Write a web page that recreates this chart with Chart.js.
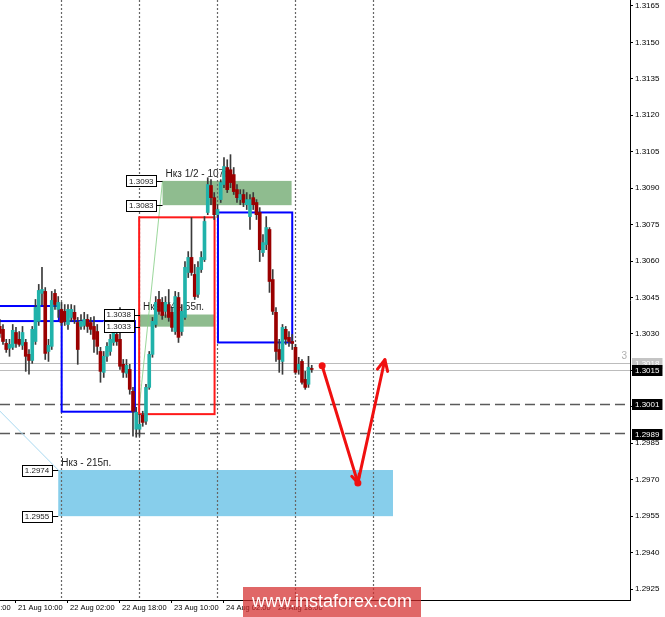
<!DOCTYPE html>
<html lang="ru">
<head>
<meta charset="UTF-8">
<title>GBPUSD H1</title>
<script src="https://cdn.jsdelivr.net/npm/chart.js"></script>
<style>
  html, body { margin: 0; padding: 0; background: #fff; }
  #wrap { width: 665px; height: 617px; }
</style>
</head>
<body>
<div id="wrap"><canvas id="chart" width="665" height="617"></canvas></div>
<script>
// hour index counted from 21 Aug 00:00 (weekend skipped)
const hours = [
  5, 6, 7, 8, 9, 10, 11, 12, 13, 14,
  15, 16, 17, 18, 19, 20, 21, 22, 23, 24,
  25, 26, 27, 28, 29, 30, 31, 32, 33, 34,
  35, 36, 37, 38, 39, 40, 41, 42, 43, 44,
  45, 46, 47, 48, 49, 50, 51, 52, 53, 54,
  55, 56, 57, 58, 59, 60, 61, 62, 63, 64,
  65, 66, 67, 68, 69, 70, 71, 72, 73, 74,
  75, 76, 77, 78, 79, 80, 81, 82, 83, 84,
  85, 86, 87, 88, 89, 90, 91, 92, 93, 94,
  95, 96, 97, 98, 99, 100, 101
];
const opens = [
  1.30331, 1.30319, 1.30261, 1.30241, 1.30245, 1.30306, 1.30278, 1.30253, 1.30265, 1.30216,
  1.30191, 1.30269, 1.30352, 1.30467, 1.30475, 1.30228, 1.30249, 1.30467, 1.30401, 1.30401,
  1.30393, 1.30339, 1.30368, 1.30389, 1.30347, 1.30331, 1.30335, 1.30360, 1.30347, 1.30331,
  1.30310, 1.30228, 1.30142, 1.30208, 1.30228, 1.30265, 1.30298, 1.30278, 1.30175, 1.30138,
  1.30154, 1.30064, 1.29908, 1.29908, 1.29965, 1.29941, 1.30080, 1.30216, 1.30339, 1.30442,
  1.30430, 1.30393, 1.30421, 1.30389, 1.30310, 1.30450, 1.30310, 1.30368, 1.30553, 1.30615,
  1.30545, 1.30463, 1.30565, 1.30606, 1.30800, 1.30911, 1.30861, 1.30791, 1.30853, 1.30915,
  1.30985, 1.30976, 1.30956, 1.30894, 1.30853, 1.30874, 1.30832, 1.30783, 1.30861, 1.30841,
  1.30800, 1.30635, 1.30668, 1.30730, 1.30524, 1.30389, 1.30236, 1.30187, 1.30319, 1.30286,
  1.30269, 1.30245, 1.30154, 1.30187, 1.30113, 1.30093, 1.30158
];
const highs = [
  1.30360, 1.30339, 1.30278, 1.30278, 1.30339, 1.30327, 1.30310, 1.30331, 1.30278, 1.30236,
  1.30331, 1.30442, 1.30504, 1.30574, 1.30491, 1.30278, 1.30475, 1.30483, 1.30454, 1.30430,
  1.30421, 1.30421, 1.30421, 1.30417, 1.30368, 1.30380, 1.30389, 1.30380, 1.30368, 1.30372,
  1.30339, 1.30245, 1.30228, 1.30265, 1.30298, 1.30352, 1.30380, 1.30409, 1.30195, 1.30195,
  1.30175, 1.30080, 1.29998, 1.29969, 1.29982, 1.30093, 1.30228, 1.30368, 1.30454, 1.30475,
  1.30450, 1.30454, 1.30483, 1.30409, 1.30475, 1.30471, 1.30421, 1.30598, 1.30639, 1.30779,
  1.30586, 1.30598, 1.30639, 1.30783, 1.30943, 1.30935, 1.30882, 1.30832, 1.30935, 1.31026,
  1.31017, 1.31038, 1.30985, 1.30915, 1.30894, 1.30894, 1.30882, 1.30874, 1.30882, 1.30853,
  1.30820, 1.30709, 1.30783, 1.30738, 1.30565, 1.30409, 1.30278, 1.30339, 1.30331, 1.30310,
  1.30298, 1.30257, 1.30204, 1.30195, 1.30146, 1.30208, 1.30171
];
const lows = [
  1.30286, 1.30257, 1.30224, 1.30208, 1.30236, 1.30245, 1.30249, 1.30236, 1.30146, 1.30134,
  1.30179, 1.30257, 1.30335, 1.30421, 1.30195, 1.30187, 1.30236, 1.30401, 1.30368, 1.30335,
  1.30335, 1.30319, 1.30352, 1.30343, 1.30175, 1.30319, 1.30319, 1.30306, 1.30298, 1.30224,
  1.30216, 1.30101, 1.30121, 1.30187, 1.30212, 1.30253, 1.30253, 1.30154, 1.30121, 1.30121,
  1.30052, 1.29879, 1.29875, 1.29879, 1.29920, 1.29928, 1.30072, 1.30204, 1.30327, 1.30380,
  1.30360, 1.30368, 1.30352, 1.30310, 1.30298, 1.30265, 1.30294, 1.30360, 1.30532, 1.30541,
  1.30442, 1.30450, 1.30553, 1.30598, 1.30791, 1.30832, 1.30771, 1.30779, 1.30841, 1.30902,
  1.30882, 1.30902, 1.30874, 1.30841, 1.30832, 1.30824, 1.30812, 1.30730, 1.30812, 1.30771,
  1.30598, 1.30619, 1.30647, 1.30471, 1.30380, 1.30187, 1.30142, 1.30134, 1.30257, 1.30249,
  1.30236, 1.30134, 1.30134, 1.30093, 1.30072, 1.30080, 1.30142
];
const closes = [
  1.30302, 1.30269, 1.30236, 1.30257, 1.30315, 1.30261, 1.30257, 1.30306, 1.30208, 1.30191,
  1.30319, 1.30409, 1.30479, 1.30483, 1.30220, 1.30253, 1.30438, 1.30421, 1.30430, 1.30347,
  1.30352, 1.30401, 1.30401, 1.30360, 1.30236, 1.30352, 1.30360, 1.30331, 1.30319, 1.30278,
  1.30249, 1.30146, 1.30208, 1.30249, 1.30278, 1.30310, 1.30269, 1.30167, 1.30142, 1.30171,
  1.30072, 1.29982, 1.29978, 1.29928, 1.29936, 1.30080, 1.30216, 1.30352, 1.30430, 1.30393,
  1.30376, 1.30430, 1.30368, 1.30327, 1.30454, 1.30286, 1.30393, 1.30574, 1.30615, 1.30553,
  1.30454, 1.30574, 1.30615, 1.30763, 1.30915, 1.30861, 1.30791, 1.30812, 1.30923, 1.30989,
  1.30894, 1.30923, 1.30886, 1.30861, 1.30874, 1.30841, 1.30853, 1.30853, 1.30832, 1.30791,
  1.30647, 1.30676, 1.30738, 1.30516, 1.30393, 1.30228, 1.30195, 1.30327, 1.30278, 1.30269,
  1.30261, 1.30142, 1.30175, 1.30101, 1.30080, 1.30163, 1.30154
];

const timeTicks = [-6, 10, 26, 42, 58, 74, 90];
const timeLabels = ['20 Aug 18:00', '21 Aug 10:00', '22 Aug 02:00', '22 Aug 18:00',
                    '23 Aug 10:00', '24 Aug 02:00', '24 Aug 18:00'];
const priceTicks = [1.2925, 1.2940, 1.2955, 1.2970, 1.2985, 1.3000, 1.3015, 1.3030, 1.3045,
                    1.3060, 1.3075, 1.3090, 1.3105, 1.3120, 1.3135, 1.3150, 1.3165];
const daySeparators = [24, 48, 72, 96, 120];

// zones: name, time span, price span
const zoneNames = ['Нкз 1/2 - 107п.', 'Нкз 1/4 - 55п.', 'Нкз - 215п.'];
const zoneStart = [55.1, 48.15, 23.0];
const zoneEnd = [94.8, 71.2, 126.0];
const zoneTop = [1.3093, 1.3038, 1.2974];
const zoneBottom = [1.3083, 1.3033, 1.2955];

// outlined boxes
const boxStart = [0, 24.05, 47.9, 72.15];
const boxEnd = [23.2, 46.6, 71.1, 95.0];
const boxHigh = [1.30415, 1.30353, 1.30780, 1.30800];
const boxLow = [1.30353, 1.29980, 1.29970, 1.30265];

// levels
const askPrice = 1.3018;
const bidPrice = 1.3015;
const dashedLevels = [1.3001, 1.2989];

// thin trend lines
const greenLineHours = [47.7, 55.1];
const greenLinePrices = [1.29968, 1.3093];
const blueLineHours = [3.0, 23.0];
const blueLinePrices = [1.30010, 1.2974];

// forecast arrow
const forecastHours = [104.2, 115.2, 123.5];
const forecastPrices = [1.30169, 1.29687, 1.30194];

const FONT = 'Liberation Sans';

function priceBox(ctx, text, xRight, yMid) {
    ctx.font = '8px ' + FONT;
    const w = ctx.measureText(text).width + 6;
    const h = 11;
    ctx.fillStyle = '#fff';
    ctx.fillRect(xRight - w, yMid - h / 2, w, h);
    ctx.strokeStyle = '#000';
    ctx.lineWidth = 1;
    ctx.strokeRect(Math.round(xRight - w) + 0.5, Math.round(yMid - h / 2) + 0.5, Math.round(w), h);
    ctx.fillStyle = '#222';
    ctx.textAlign = 'left';
    ctx.textBaseline = 'middle';
    ctx.fillText(text, xRight - w + 3, yMid + 0.5);
}

function axisLabel(ctx, text, x, yMid, bg, fg) {
    ctx.font = '8px ' + FONT;
    const w = ctx.measureText(text).width + 6;
    ctx.fillStyle = bg;
    ctx.fillRect(x, Math.round(yMid) - 5, w, 11);
    ctx.fillStyle = fg;
    ctx.textAlign = 'left';
    ctx.textBaseline = 'middle';
    ctx.fillText(text, x + 3, Math.round(yMid) + 0.5);
}

const overlay = {
    id: 'overlay',
    beforeDatasetsDraw(chart) {
        const {ctx, chartArea: a, scales: {x, y}} = chart;
        ctx.save();
        ctx.beginPath();
        ctx.rect(a.left, a.top, a.right - a.left, a.bottom - a.top);
        ctx.clip();

        // filled zones
        const zoneColors = ['#8fbc8f', '#8fbc8f', '#87ceeb'];
        zoneNames.forEach((name, i) => {
            const x0 = x.getPixelForValue(zoneStart[i]);
            const x1 = x.getPixelForValue(zoneEnd[i]);
            const y0 = y.getPixelForValue(zoneTop[i]);
            const y1 = y.getPixelForValue(zoneBottom[i]);
            ctx.fillStyle = zoneColors[i];
            ctx.fillRect(x0, y0, x1 - x0, y1 - y0);
            ctx.font = '10px ' + FONT;
            ctx.fillStyle = '#1e1e1e';
            ctx.textAlign = 'left';
            ctx.textBaseline = 'bottom';
            ctx.fillText(name, x0 + 3, y0 - 2);
        });

        // day separators
        ctx.strokeStyle = '#666';
        ctx.lineWidth = 1.2;
        ctx.setLineDash([2, 2]);
        daySeparators.forEach(h => {
            const px = Math.round(x.getPixelForValue(h)) + 0.5;
            ctx.beginPath();
            ctx.moveTo(px, a.top);
            ctx.lineTo(px, a.bottom);
            ctx.stroke();
        });

        // bid / ask lines
        ctx.setLineDash([]);
        ctx.lineWidth = 1;
        ctx.strokeStyle = '#bcbcbc';
        [askPrice, bidPrice].forEach(p => {
            const py = Math.round(y.getPixelForValue(p)) + 0.5;
            ctx.beginPath();
            ctx.moveTo(a.left, py);
            ctx.lineTo(a.right, py);
            ctx.stroke();
        });

        // dashed levels
        ctx.strokeStyle = '#5a5a5a';
        ctx.lineWidth = 1.5;
        ctx.setLineDash([10, 5]);
        dashedLevels.forEach(p => {
            const py = y.getPixelForValue(p);
            ctx.beginPath();
            ctx.moveTo(a.left, py);
            ctx.lineTo(a.right, py);
            ctx.stroke();
        });
        ctx.setLineDash([]);

        // thin trend lines
        ctx.lineWidth = 1;
        ctx.strokeStyle = 'rgba(130, 205, 130, 0.8)';
        ctx.beginPath();
        ctx.moveTo(x.getPixelForValue(greenLineHours[0]), y.getPixelForValue(greenLinePrices[0]));
        ctx.lineTo(x.getPixelForValue(greenLineHours[1]), y.getPixelForValue(greenLinePrices[1]));
        ctx.stroke();
        ctx.strokeStyle = '#a8d8f0';
        ctx.beginPath();
        ctx.moveTo(x.getPixelForValue(blueLineHours[0]), y.getPixelForValue(blueLinePrices[0]));
        ctx.lineTo(x.getPixelForValue(blueLineHours[1]), y.getPixelForValue(blueLinePrices[1]));
        ctx.stroke();

        // outlined boxes
        const boxColors = ['#0000ff', '#0000ff', '#ff1a1a', '#0000ff'];
        ctx.lineWidth = 2;
        boxStart.forEach((s, i) => {
            const x0 = x.getPixelForValue(s);
            const x1 = x.getPixelForValue(boxEnd[i]);
            const y0 = y.getPixelForValue(boxHigh[i]);
            const y1 = y.getPixelForValue(boxLow[i]);
            ctx.strokeStyle = boxColors[i];
            ctx.strokeRect(x0, y0, x1 - x0, y1 - y0);
        });

        // spread mark
        ctx.font = '10px ' + FONT;
        ctx.fillStyle = '#b0b0b0';
        ctx.textAlign = 'right';
        ctx.textBaseline = 'bottom';
        ctx.fillText('3', a.right - 3, y.getPixelForValue(askPrice) - 2);
        ctx.restore();
    },
    afterDatasetsDraw(chart) {
        const {ctx, chartArea: a, scales: {x, y}} = chart;
        ctx.save();
        ctx.beginPath();
        ctx.rect(a.left, a.top, a.right - a.left, a.bottom - a.top);
        ctx.clip();

        // price tags at zone edges
        zoneNames.forEach((name, i) => {
            const x0 = x.getPixelForValue(zoneStart[i]);
            [zoneTop[i], zoneBottom[i]].forEach(p => {
                const py = y.getPixelForValue(p);
                ctx.strokeStyle = '#000';
                ctx.lineWidth = 1;
                ctx.beginPath();
                ctx.moveTo(x0 - 6, Math.round(py) + 0.5);
                ctx.lineTo(x0, Math.round(py) + 0.5);
                ctx.stroke();
                priceBox(ctx, p.toFixed(4), x0 - 6, py);
            });
        });

        // forecast arrow
        const pts = forecastHours.map((h, i) => [x.getPixelForValue(h), y.getPixelForValue(forecastPrices[i])]);
        ctx.strokeStyle = '#f01010';
        ctx.fillStyle = '#f01010';
        ctx.lineWidth = 3;
        ctx.lineJoin = 'round';
        ctx.lineCap = 'round';
        ctx.beginPath();
        ctx.moveTo(pts[0][0], pts[0][1]);
        ctx.lineTo(pts[1][0], pts[1][1]);
        ctx.lineTo(pts[2][0], pts[2][1]);
        ctx.stroke();
        [pts[0], pts[1]].forEach(p => {
            ctx.beginPath();
            ctx.arc(p[0], p[1], 3.5, 0, Math.PI * 2);
            ctx.fill();
        });
        const heads = [[pts[0], pts[1], 9], [pts[1], pts[2], 12]];
        heads.forEach(([from, to, len]) => {
            const ang = Math.atan2(to[1] - from[1], to[0] - from[0]);
            ctx.beginPath();
            ctx.moveTo(to[0] - len * Math.cos(ang - 0.45), to[1] - len * Math.sin(ang - 0.45));
            ctx.lineTo(to[0], to[1]);
            ctx.lineTo(to[0] - len * Math.cos(ang + 0.45), to[1] - len * Math.sin(ang + 0.45));
            ctx.stroke();
        });
        ctx.restore();
    },
    afterDraw(chart) {
        const {ctx, chartArea: a, scales: {y}} = chart;
        ctx.save();
        // price tags on the axis
        const lx = a.right + 2;
        axisLabel(ctx, askPrice.toFixed(4), lx, y.getPixelForValue(askPrice), '#c4c4c4', '#fff');
        axisLabel(ctx, bidPrice.toFixed(4), lx, y.getPixelForValue(bidPrice), '#000', '#fff');
        dashedLevels.forEach(p => axisLabel(ctx, p.toFixed(4), lx, y.getPixelForValue(p), '#000', '#fff'));

        // watermark
        ctx.fillStyle = 'rgba(212, 45, 45, 0.72)';
        ctx.fillRect(243, 587, 178, 30);
        ctx.fillStyle = '#fff';
        ctx.font = '18px ' + FONT;
        ctx.textAlign = 'center';
        ctx.textBaseline = 'middle';
        ctx.fillText('www.instaforex.com', 332, 602);
        ctx.restore();
    }
};

const bodyData = hours.map((h, i) => ({x: h, y: [opens[i], closes[i]]}));
const wickData = hours.map((h, i) => ({x: h, y: [lows[i], highs[i]]}));
const bodyColors = hours.map((h, i) => closes[i] >= opens[i] ? '#20b2aa' : '#9a0000');

new Chart(document.getElementById('chart'), {
    type: 'bar',
    data: {
        datasets: [
            { label: 'body', data: bodyData, backgroundColor: bodyColors,
              barThickness: 3, grouped: false, order: 0 },
            { label: 'wick', data: wickData, backgroundColor: '#3a3a3a',
              barThickness: 1, grouped: false, order: 1 }
        ]
    },
    options: {
        responsive: false,
        animation: false,
        devicePixelRatio: 1,
        layout: { padding: 0 },
        plugins: { legend: { display: false }, tooltip: { enabled: false } },
        scales: {
            x: {
                type: 'linear',
                min: 5.08,
                max: 198.93,
                offset: false,
                grid: { display: true, drawOnChartArea: false, drawTicks: true, tickLength: 3, color: '#000', offset: false },
                border: { display: true, color: '#000' },
                ticks: {
                    autoSkip: false, maxRotation: 0, align: 'start', labelOffset: 2, padding: 0,
                    color: '#000', font: { family: FONT, size: 7.5 },
                    callback: (v, i) => timeLabels[i]
                },
                afterBuildTicks: s => { s.ticks = timeTicks.map(v => ({value: v})); },
                afterFit: s => { s.height = 17; s.paddingLeft = 0; s.paddingRight = 0; }
            },
            y: {
                position: 'right',
                min: 1.29205,
                max: 1.316745,
                grid: { display: true, drawOnChartArea: false, drawTicks: true, tickLength: 3, color: '#000' },
                border: { display: true, color: '#000' },
                ticks: {
                    padding: 2, color: '#000', font: { family: FONT, size: 8 },
                    callback: v => v.toFixed(4)
                },
                afterBuildTicks: s => { s.ticks = priceTicks.map(v => ({value: v})); },
                afterFit: s => { s.width = 35; s.paddingTop = 0; s.paddingBottom = 0; }
            }
        }
    },
    plugins: [overlay]
});
</script>
</body>
</html>
